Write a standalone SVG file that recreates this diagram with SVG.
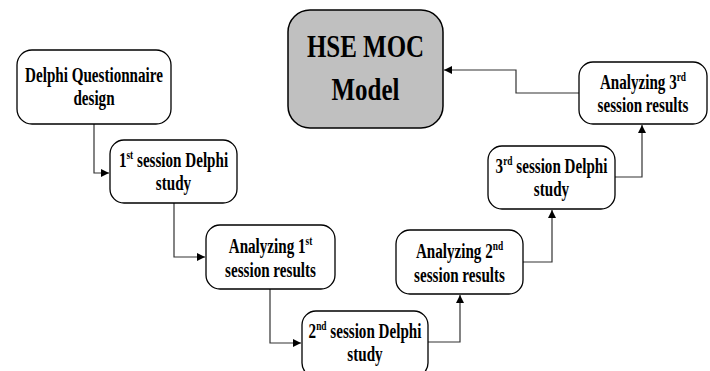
<svg xmlns="http://www.w3.org/2000/svg" width="710" height="371" viewBox="0 0 710 371">
<style>
.box{fill:#ffffff;stroke:#000000;stroke-width:1.3}
.hse{fill:#c0c0c0;stroke:#000000;stroke-width:1.5}
text{font-family:'Liberation Serif','Times New Roman',serif;font-weight:bold;font-size:21px;fill:#000000;text-anchor:middle}
.big{font-size:32px}
.sup{font-size:13px}
.con{fill:none;stroke:#333333;stroke-width:1.2}
</style>
<defs>
<marker id="arr" markerUnits="userSpaceOnUse" markerWidth="9" markerHeight="8" refX="8" refY="4" orient="auto">
<path d="M0,0 L8,4 L0,8 Z" fill="#000000"/>
</marker>
</defs>
<rect width="710" height="371" fill="#ffffff"/>
<g id="connectors">
<path class="con" d="M94,124 V173 H109" marker-end="url(#arr)"/>
<path class="con" d="M174,203 V257 H205" marker-end="url(#arr)"/>
<path class="con" d="M270,289 V343 H301" marker-end="url(#arr)"/>
<path class="con" d="M428,342 H460 V295" marker-end="url(#arr)"/>
<path class="con" d="M523,262 H552 V210" marker-end="url(#arr)"/>
<path class="con" d="M615,177 H642 V125" marker-end="url(#arr)"/>
<path class="con" d="M579,93 H516 V70 H444" marker-end="url(#arr)"/>
</g>
<g id="hse">
<rect class="hse" x="288" y="10" width="155" height="118" rx="22"/>
<g transform="translate(365.5,0) scale(0.78,1)">
<text class="big" x="0" y="57">HSE MOC</text>
<text class="big" x="0" y="100">Model</text>
</g>
</g>
<g id="n1">
<rect class="box" x="17" y="50" width="154" height="74" rx="15"/>
<g transform="translate(94,0) scale(0.72,1)">
<text x="0" y="82">Delphi Questionnaire</text>
<text x="0" y="105">design</text>
</g>
</g>
<g id="n2">
<rect class="box" x="110" y="140" width="127" height="63" rx="14"/>
<g transform="translate(173.5,0) scale(0.72,1)">
<text x="0" y="167">1<tspan class="sup" dy="-8">st</tspan><tspan dy="8"> session Delphi</tspan></text>
<text x="0" y="190">study</text>
</g>
</g>
<g id="n3">
<rect class="box" x="206" y="225" width="129" height="64" rx="14"/>
<g transform="translate(270.5,0) scale(0.72,1)">
<text x="0" y="253">Analyzing 1<tspan class="sup" dy="-8">st</tspan></text>
<text x="0" y="277">session results</text>
</g>
</g>
<g id="n4">
<rect class="box" x="302" y="311" width="126" height="66" rx="14"/>
<g transform="translate(365,0) scale(0.72,1)">
<text x="0" y="338">2<tspan class="sup" dy="-8">nd</tspan><tspan dy="8"> session Delphi</tspan></text>
<text x="0" y="361">study</text>
</g>
</g>
<g id="n5">
<rect class="box" x="396" y="230" width="127" height="64" rx="14"/>
<g transform="translate(459.5,0) scale(0.72,1)">
<text x="0" y="258">Analyzing 2<tspan class="sup" dy="-8">nd</tspan></text>
<text x="0" y="282">session results</text>
</g>
</g>
<g id="n6">
<rect class="box" x="488" y="146" width="127" height="63" rx="14"/>
<g transform="translate(551.5,0) scale(0.72,1)">
<text x="0" y="173">3<tspan class="sup" dy="-8">rd</tspan><tspan dy="8"> session Delphi</tspan></text>
<text x="0" y="196">study</text>
</g>
</g>
<g id="n7">
<rect class="box" x="579" y="62" width="128" height="62" rx="14"/>
<g transform="translate(643,0) scale(0.72,1)">
<text x="0" y="89">Analyzing 3<tspan class="sup" dy="-8">rd</tspan></text>
<text x="0" y="112">session results</text>
</g>
</g>
</svg>
